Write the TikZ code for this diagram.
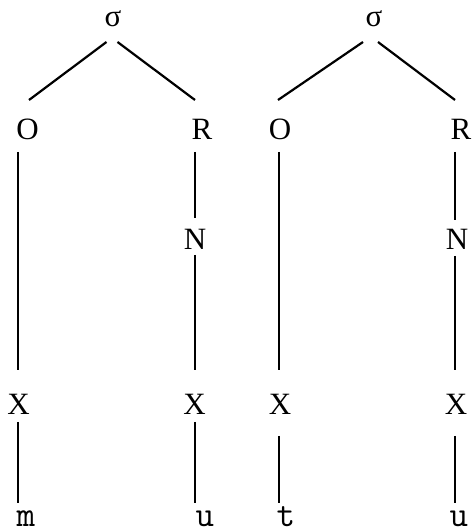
\documentclass[tikz,border=0pt]{standalone}
\usepackage{fontspec}
\setmainfont{Liberation Serif}
\usetikzlibrary{calc}
\tikzset{
  lab/.style={anchor=base, inner sep=0pt, font=\fontsize{31}{31}\selectfont},
  seg/.style={anchor=base, inner sep=0pt, font=\fontsize{36}{36}\selectfont\ttfamily},
  edge/.style={line width=2.2pt}
}
\begin{document}
\begin{tikzpicture}[x=1pt,y=1pt]
\useasboundingbox (0,0) rectangle (473,531);
% first syllable
\node[lab] (S1) at (113,504) {σ};
\node[lab] (O1) at (27.5,391) {O};
\node[lab] (R1) at (202,391) {R};
\node[lab] (N1) at (195,281) {N};
\node[lab] (X1) at (18.5,116) {X};
\node[lab] (X2) at (194.5,116) {X};
\node[seg] (m1) at (26,4.5) {m};
\node[seg] (u1) at (205,4.5) {u};
% second syllable
\node[lab] (S2) at (374,504) {σ};
\node[lab] (O2) at (280,391) {O};
\node[lab] (R2) at (461,391) {R};
\node[lab] (N2) at (457,281) {N};
\node[lab] (X3) at (280,116) {X};
\node[lab] (X4) at (456,116) {X};
\node[seg] (t2) at (286,4.5) {t};
\node[seg] (u2) at (459,4.5) {u};
% edges, first syllable
\draw[edge] ($(S1.base)+(-6.5,-15)$) -- ($(O1.base)+(1.5,40)$);
\draw[edge] ($(S1.base)+(4.5,-15)$) -- ($(R1.base)+(-7,40)$);
\draw[edge] ($(O1.base)+(-9.5,-12)$) -- ($(X1.base)+(-0.5,45)$);
\draw[edge] ($(X1.base)+(-0.5,-7)$) -- ($(m1.base)+(-8,23.5)$);
\draw[edge] ($(R1.base)+(-7,-12)$) -- ($(N1.base)+(0,32)$);
\draw[edge] ($(N1.base)+(0,-5)$) -- ($(X2.base)+(0.5,45)$);
\draw[edge] ($(X2.base)+(0.5,-7)$) -- ($(u1.base)+(-10,23.5)$);
% edges, second syllable
\draw[edge] ($(S2.base)+(-11,-15)$) -- ($(O2.base)+(-2,40)$);
\draw[edge] ($(S2.base)+(4,-15)$) -- ($(R2.base)+(-6,40)$);
\draw[edge] ($(O2.base)+(-1,-12)$) -- ($(X3.base)+(-1,45)$);
\draw[edge] ($(X3.base)+(-1,-21)$) -- ($(t2.base)+(-7,23.5)$);
\draw[edge] ($(R2.base)+(-6,-12)$) -- ($(N2.base)+(-2,30)$);
\draw[edge] ($(N2.base)+(-2,-6)$) -- ($(X4.base)+(-1,45)$);
\draw[edge] ($(X4.base)+(-1,-21)$) -- ($(u2.base)+(-4,23.5)$);
\end{tikzpicture}
\end{document}
